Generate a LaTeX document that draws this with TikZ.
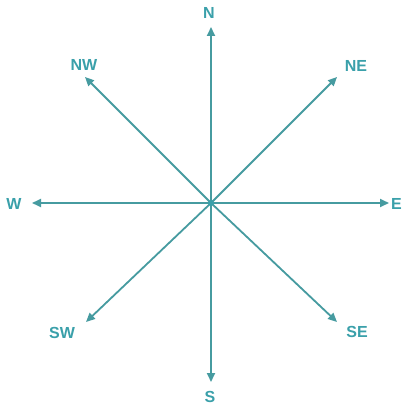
\documentclass[tikz,border=0pt]{standalone}
\usepackage{fontspec}
\setmainfont{Liberation Sans}
\usetikzlibrary{arrows.meta}
\definecolor{teal1}{RGB}{58,160,170}
\definecolor{tealline}{RGB}{70,155,160}
\begin{document}
\begin{tikzpicture}[x=1pt,y=-1pt,
  ray/.style={draw=tealline,line width=1.8pt,-{Triangle[length=9pt,width=8pt]}},
  lbl/.style={text=teal1,font=\fontsize{16}{16}\selectfont\bfseries,inner sep=0pt}]
\useasboundingbox[fill=white] (0,0) rectangle (405,412);
\coordinate (O) at (211,203);
\coordinate (tN) at (211,27);
\coordinate (tS) at (211,382);
\coordinate (tW) at (32,203);
\coordinate (tE) at (389,203);
\coordinate (tNE) at (337,77);
\coordinate (tNW) at (85,77);
\coordinate (tSW) at (86,322);
\coordinate (tSE) at (337,322);
\node[lbl] (N) at (209,13) {N};
\node[lbl] (S) at (210,397) {S};
\node[lbl] (W) at (14,204) {W};
\node[lbl,anchor=west] (E) at (391,204) {E};
\node[lbl] (NE) at (356,66) {NE};
\node[lbl] (NW) at (84,65) {NW};
\node[lbl] (SW) at (62,333) {SW};
\node[lbl] (SE) at (357,332) {SE};
\foreach \t in {tN,tS,tW,tE,tNE,tNW,tSW,tSE} \draw[ray] (O) -- (\t);
\fill[teal1] (O) circle (3pt);
\end{tikzpicture}
\end{document}
